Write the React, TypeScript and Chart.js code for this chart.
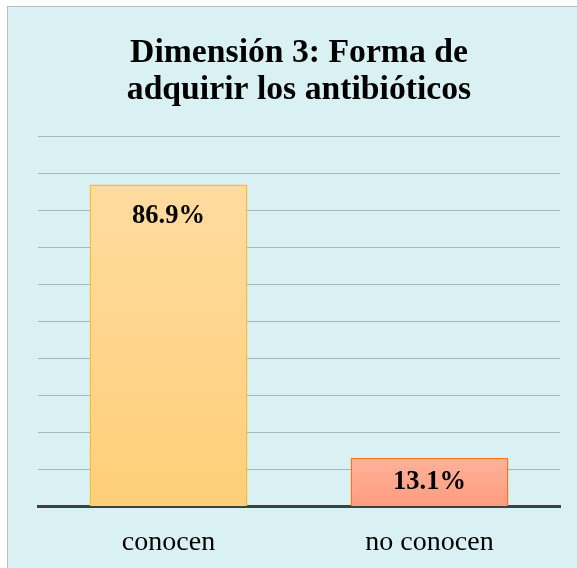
import React, { useEffect, useRef } from "react";
import { Chart, registerables } from "chart.js";

Chart.register(...registerables);

const categories = ["conocen", "no conocen"];
const percentages = [86.9, 13.1];
const valueLabels = ["86.9%", "13.1%"];
const titleLines = ["Dimensión 3: Forma de", "adquirir los antibióticos"];
const topColors = ["#FFDB9F", "#FFB29A"];
const bottomColors = ["#FECF78", "#FF9C7E"];
const borderColors = ["#F7BE33", "#FF7515"];

const FONT = "'Liberation Serif', 'Times New Roman', serif";

const labelPlugin = {
  id: "valueLabels",
  afterDatasetsDraw(chart: any) {
    const ctx = chart.ctx;
    const meta = chart.getDatasetMeta(0);
    ctx.save();
    ctx.font = `bold 26.5px ${FONT}`;
    ctx.fillStyle = "#000";
    ctx.textAlign = "center";
    ctx.textBaseline = "middle";
    meta.data.forEach((bar: any, i: number) => {
      const y = Math.min(bar.y + 32, (bar.y + bar.base) / 2);
      ctx.fillText(valueLabels[i], bar.x, y);
    });
    ctx.restore();
  },
};

export default function App() {
  const ref = useRef<HTMLCanvasElement>(null);
  useEffect(() => {
    const chart = new Chart(ref.current!, {
      type: "bar",
      data: {
        labels: categories,
        datasets: [
          {
            data: percentages,
            backgroundColor: (c: any) => {
              const i = c.dataIndex ?? 0;
              const ch = c.chart;
              const ys = ch.scales?.y;
              if (!ys) return topColors[i];
              const top = ys.getPixelForValue(percentages[i]);
              const bot = ys.getPixelForValue(0);
              if (!isFinite(top) || !isFinite(bot) || top === bot) return topColors[i];
              const g = ch.ctx.createLinearGradient(0, top, 0, bot);
              g.addColorStop(0, topColors[i]);
              g.addColorStop(1, bottomColors[i]);
              return g;
            },
            borderColor: borderColors,
            borderWidth: 1.5,
            barPercentage: 0.605,
            categoryPercentage: 1,
          },
        ],
      },
      options: {
        responsive: false,
        animation: false,
        layout: { padding: { left: 38, right: 17, top: 35, bottom: -2 } },
        plugins: {
          legend: { display: false },
          tooltip: { enabled: false },
          title: {
            display: true,
            text: titleLines,
            color: "#000",
            font: { family: FONT, size: 33.7, weight: "bold", lineHeight: 1.098 },
            padding: { top: 0, bottom: 27 },
          },
        },
        scales: {
          y: {
            min: 0,
            max: 100,
            ticks: { display: false, stepSize: 10 },
            border: { display: false },
            grid: { color: "#A9B6B9", lineWidth: 1, drawTicks: false },
          },
          x: {
            ticks: { color: "#000", font: { family: FONT, size: 28 }, padding: 11 },
            grid: { display: false },
            border: { display: true, color: "#404040", width: 3 },
          },
        },
      },
      plugins: [labelPlugin],
    });
    return () => chart.destroy();
  }, []);
  return (
    <div
      style={{
        position: "fixed",
        left: 7,
        top: 6,
        width: 580,
        height: 570,
        background: "#DAF1F4",
        borderLeft: "1.5px solid #BDBDBD",
        borderTop: "1.5px solid #BDBDBD",
      }}
    >
      <canvas
        ref={ref}
        width={577}
        height={568}
        style={{ position: "fixed", left: 0, top: 0, width: 577, height: 568 }}
      />
    </div>
  );
}
